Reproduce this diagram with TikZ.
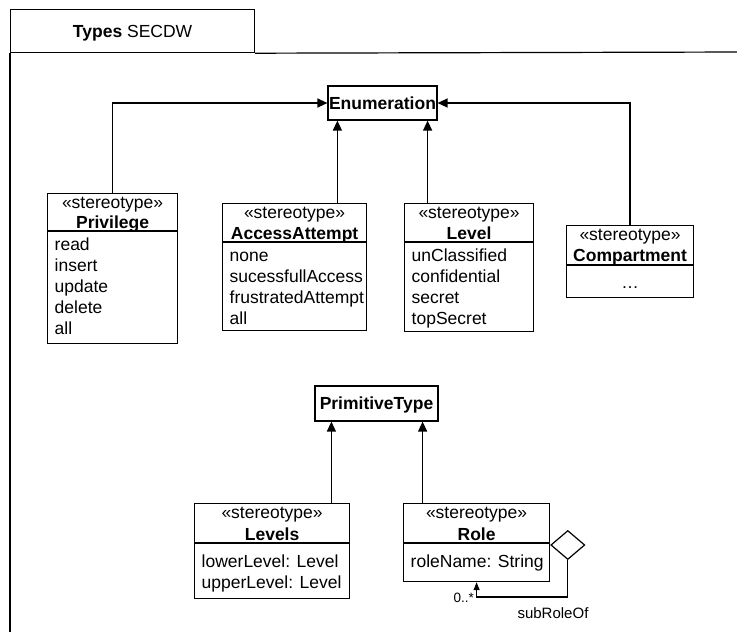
\documentclass[tikz,border=0pt]{standalone}
\usepackage{fontspec}
\setmainfont{Liberation Sans}
\usetikzlibrary{arrows.meta,shapes.geometric}

\tikzset{
  clsbox/.style={draw, line width=1.2pt, inner sep=0pt, fill=white},
  sepline/.style={line width=1.2pt},
  txt/.style={inner sep=0pt, font=\fontsize{17.5}{21}\selectfont},
  btxt/.style={inner sep=0pt, font=\fontsize{17.5}{21}\selectfont\bfseries},
  gen/.style={line width=1.3pt, -{Triangle[length=10pt,width=9pt]}},
  assoc/.style={line width=1.3pt, -{Triangle[length=8pt,width=6pt]}},
  framel/.style={line width=1.2pt},
  smalltxt/.style={inner sep=0pt, font=\fontsize{13.5}{15}\selectfont},
  roletxt/.style={inner sep=0pt, font=\fontsize{15}{17}\selectfont},
}

% #1 name, #2 x, #3 y, #4 width, #5 height, #6 header height,
% #7 class name, #8 attributes, #9 offset of first attribute baseline
\newcommand\UMLclass[9]{%
  \node[clsbox, minimum width=#4, minimum height=#5, anchor=north west] (#1) at (#2,#3) {};
  \draw[sepline] ([yshift=-#6]#1.north west) -- ([yshift=-#6]#1.north east);
  \node[txt, anchor=base] (#1-st) at ([yshift=-15.5]#1.north) {«stereotype»};
  \node[btxt, anchor=base] (#1-nm) at ([yshift=-#6+3]#1.north) {#7};
  \foreach \a [count=\i] in {#8} {%
    \node[txt, anchor=base west] (#1-a\i) at ([xshift=7.5, yshift={-#6-#9-21*(\i-1)}]#1.north west) {\a};
  }%
}

\begin{document}
\begin{tikzpicture}[x=1pt, y=-1pt]
\fill[white] (0,0) rectangle (737,632);
\useasboundingbox (0,0) rectangle (737,632);

% frame
\node[draw, line width=1.2pt, inner sep=0pt, minimum width=244, minimum height=43.3,
      anchor=north west, text height=12.6pt, text depth=0pt,
      font=\fontsize{17.5}{21}\selectfont] (tab) at (10,8.7) {\textbf{Types} SECDW};
\draw[framel] (tab.south west) -- (10,640);
\draw[framel] (tab.south east) -- (745,52);

% Enumeration
\node[clsbox, btxt, minimum width=109, minimum height=34, text height=12.6pt, text depth=0pt]
  (enum) at (382.5,103) {Enumeration};

\UMLclass{priv}{47}{193}{130}{150}{38}{Privilege}{read,insert,update,delete,all}{19}
\UMLclass{acc}{222}{203}{144}{127}{39}{AccessAttempt}{none,sucessfullAccess,frustratedAttempt,all}{19}
\UMLclass{lvl}{404}{203}{129}{128}{39}{Level}{unClassified,confidential,secret,topSecret}{19}

% Compartment
\node[clsbox, minimum width=127, minimum height=72, anchor=north west] (comp) at (566,225) {};
\draw[sepline] ([yshift=-40]comp.north west) -- ([yshift=-40]comp.north east);
\node[txt, anchor=base] (comp-st) at ([yshift=-15.5]comp.north) {«stereotype»};
\node[btxt, anchor=base] (comp-nm) at ([yshift=-36]comp.north) {Compartment};
\node[txt, anchor=base] (comp-a1) at ([yshift=-63]comp.north) {…};

\coordinate (e1) at ([xshift=10]enum.south west);
\coordinate (e2) at ([xshift=-10]enum.south east);
\draw[gen] (priv.north) |- (enum.west);
\draw[gen] (acc.north -| e1) -- (e1);
\draw[gen] (lvl.north -| e2) -- (e2);
\draw[gen] (comp.north) |- (enum.east);

% PrimitiveType
\node[clsbox, btxt, minimum width=123, minimum height=35, text height=12.6pt, text depth=0pt]
  (prim) at (376.5,403.5) {PrimitiveType};

\UMLclass{lvls}{194}{503}{155}{95}{40}{Levels}{lowerLevel: Level,upperLevel: Level}{24.5}
\UMLclass{role}{403}{503}{146}{78}{40}{Role}{roleName: String}{24.5}

\coordinate (p1) at ([xshift=17]prim.south west);
\coordinate (p2) at ([xshift=-16]prim.south east);
\draw[gen] (lvls.north -| p1) -- (p1);
\draw[gen] (role.north -| p2) -- (p2);

% self association
\node[draw, diamond, line width=1.2pt, inner sep=0pt, minimum width=34, minimum height=29,
      anchor=west, fill=white] (dia) at (role.east |- 0,545) {};
\coordinate (lp) at (dia.south |- 0,597);
\draw[assoc] (dia.south) -- (lp) -| (role.south);
\node[smalltxt, anchor=base east] (mult) at (474,602) {0..*};
\node[roletxt, anchor=base] (srl) at (553,618) {subRoleOf};
\end{tikzpicture}
\end{document}
